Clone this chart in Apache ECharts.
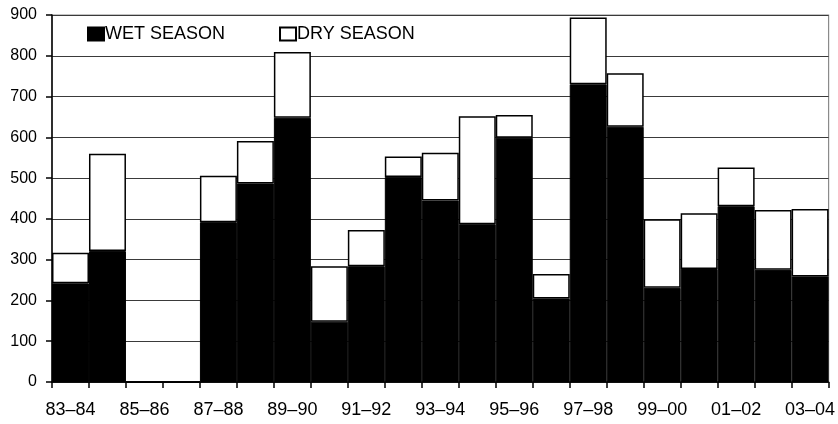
<!DOCTYPE html>
<html><head><meta charset="utf-8">
<script src="https://cdn.jsdelivr.net/npm/echarts@6/dist/echarts.min.js"></script>
<style>html,body{margin:0;padding:0;background:#fff}#c{width:838px;height:424px}</style>
</head><body><div id="c"></div>
<script>
const categories = ['83–84','84–85','85–86','86–87','87–88','88–89','89–90','90–91','91–92','92–93','93–94','94–95','95–96','96–97','97–98','98–99','99–00','00–01','01–02','02–03','03–04'];
const wetSeason = [242,321,0,0,392,487,648,148,284,503,445,387,599,205,730,626,231,277,431,275,259];
const drySeason = [75,239,0,0,114,104,161,136,89,50,117,265,56,60,164,131,168,137,95,147,165];
const yTicks = {min:0, max:900, interval:100};

const font = 'Liberation Sans, Arial, Helvetica, sans-serif';
const chart = echarts.init(document.getElementById('c'), null, {renderer:'canvas'});
chart.setOption({
  animation:false,
  textStyle:{fontFamily:font},
  grid:{left:52, right:4, top:15, bottom:42, show:true, borderColor:'#8a8a8a', borderWidth:1.2},
  legend:{
    left:82, top:20, itemWidth:16, itemHeight:13, itemGap:54,
    icon:'rect',
    textStyle:{fontSize:18, color:'#000', fontFamily:font, padding:[0,0,0,-4]},
    data:['WET SEASON','DRY SEASON']
  },
  xAxis:{
    type:'category', data:categories, boundaryGap:true,
    axisLine:{lineStyle:{color:'#000', width:1.5}},
    axisTick:{show:true, length:6, interval:0, lineStyle:{color:'#000', width:1.5}},
    axisLabel:{interval:1, fontSize:18, color:'#000', margin:19, fontFamily:font},
    splitLine:{show:false}
  },
  yAxis:{
    type:'value', min:yTicks.min, max:yTicks.max, interval:yTicks.interval,
    axisLine:{show:true, lineStyle:{color:'#000', width:1.5}},
    axisTick:{show:true, length:6, lineStyle:{color:'#000', width:1.5}},
    axisLabel:{fontSize:16, color:'#000', margin:15, fontFamily:font},
    splitLine:{show:true, lineStyle:{color:'#3a3a3a', width:1.2}}
  },
  series:[
    {name:'WET SEASON', type:'bar', stack:'s', data:wetSeason, barCategoryGap:'0%',
     itemStyle:{color:'#000', borderColor:'#000', borderWidth:1}},
    {name:'DRY SEASON', type:'bar', stack:'s', data:drySeason, barCategoryGap:'0%',
     itemStyle:{color:'#fff', borderColor:'#000', borderWidth:1.5}}
  ]
});
</script></body></html>
